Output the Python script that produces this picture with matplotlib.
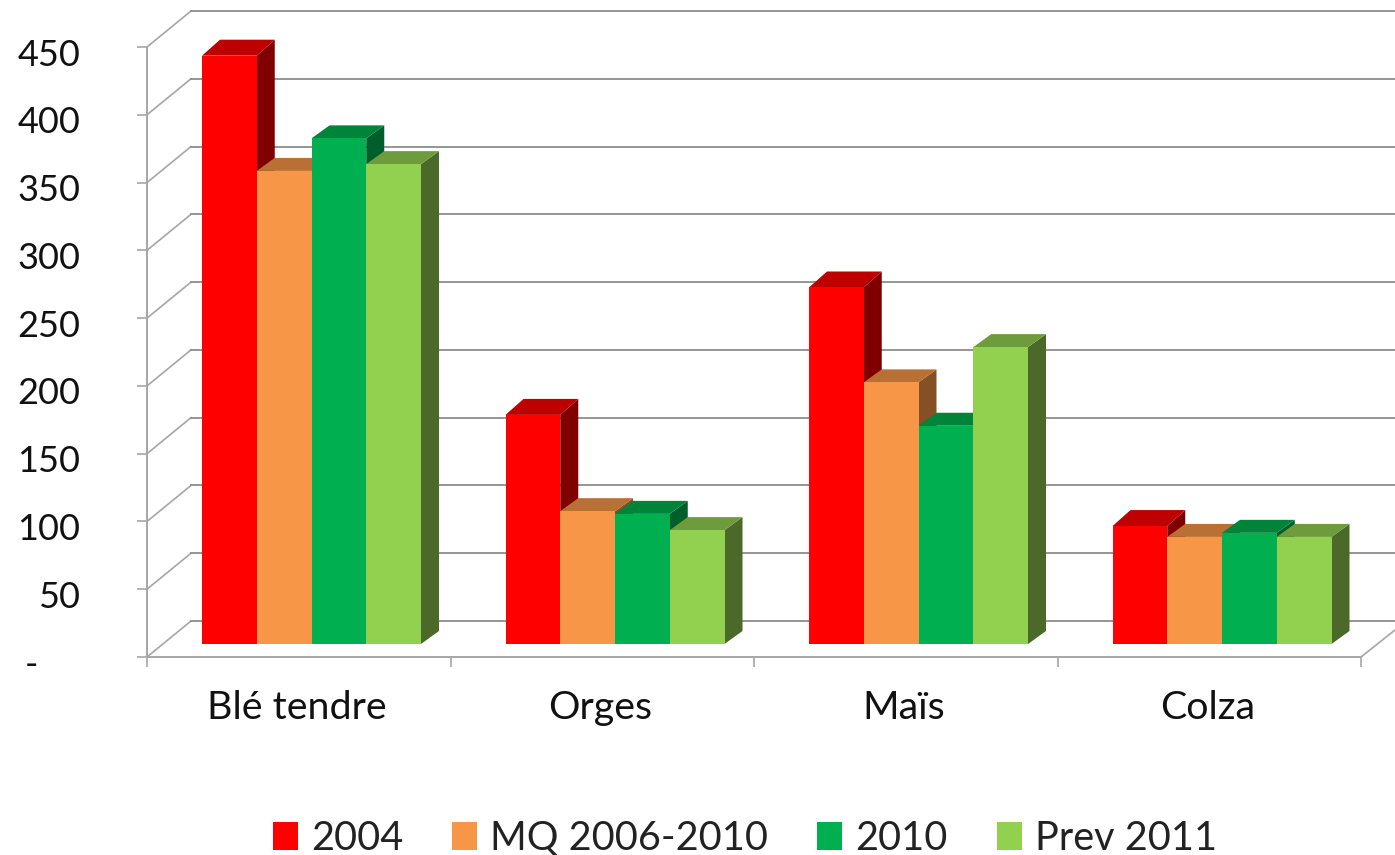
# -*- coding: utf-8 -*-
import numpy as np
import matplotlib
matplotlib.use("Agg")
import matplotlib.pyplot as plt
from matplotlib.patches import Polygon, Patch
from matplotlib.transforms import ScaledTranslation

plt.rcParams['font.family'] = ['Lato', 'DejaVu Sans']

categories = ["Blé tendre", "Orges", "Maïs", "Colza"]
series_names = ["2004", "MQ 2006-2010", "2010", "Prev 2011"]
ble = [434, 349, 373, 354]
orges = [169, 98, 96, 84]
mais = [263, 193, 161, 219]
colza = [87, 79, 82, 79]
yticks = [0, 50, 100, 150, 200, 250, 300, 350, 400, 450]
ylabels = ["-", "50", "100", "150", "200", "250", "300", "350", "400", "450"]

front = ["#FF0000", "#F79646", "#00B050", "#92D050"]
top = ["#BE0000", "#B97035", "#008439", "#6E9C3C"]
side = ["#800000", "#855024", "#005E2B", "#4B6A29"]

W, H = 1395, 855
x0, x1 = 147, 1361
y0, y1 = 657, 47
fig = plt.figure(figsize=(W / 100, H / 100), dpi=100)
ax = fig.add_axes([x0 / W, 1 - y0 / H, (x1 - x0) / W, (y0 - y1) / H])
ax.set_xlim(0, 4)
ax.set_ylim(0, 450)

# pixel to data conversions for the fake 3d
px = 4 / (x1 - x0)
py = 450 / (y0 - y1)
wall_dx, wall_dy = 44 * px, 36 * py
bar_w = 54.75 * px
bar_start = 55 * px
floor = 13 * py

# walls
for v in yticks:
    ax.plot([0, wall_dx], [v, v + wall_dy], color="#a6a6a6", lw=1.2, clip_on=False, zorder=1)
    ax.plot([wall_dx, 4.2], [v + wall_dy, v + wall_dy], color="#8c8c8c", lw=1.3,
            clip_on=False, zorder=1)
ax.plot([4, 4 + 34 * px], [0, 27 * py], color="#a6a6a6", lw=1.2, clip_on=False, zorder=1)

# bars, later ones over earlier ones
for g, vals in enumerate([ble, orges, mais, colza]):
    for s, v in enumerate(vals):
        xl = g + bar_start + s * bar_w
        xr = xl + bar_w
        dx = 18 * px
        dy = (16 if s == 0 else 13) * py
        b = floor
        t = floor + v
        z = 3 + g * 4 + s
        ax.add_patch(Polygon([(xr, b), (xr + dx, b + dy), (xr + dx, t + dy), (xr, t)],
                             fc=side[s], ec="none", zorder=z, clip_on=False))
        ax.add_patch(Polygon([(xl, t), (xr, t), (xr + dx, t + dy), (xl + dx, t + dy)],
                             fc=top[s], ec="none", zorder=z, clip_on=False))
        ax.add_patch(Polygon([(xl, b), (xr, b), (xr, t), (xl, t)],
                             fc=front[s], ec="none", zorder=z, clip_on=False))

for name in ["top", "right"]:
    ax.spines[name].set_visible(False)
for name in ["left", "bottom"]:
    ax.spines[name].set_color("#a6a6a6")
    ax.spines[name].set_linewidth(1.4)

ax.set_yticks(yticks)
ax.set_yticklabels(ylabels, fontsize=26, color="#111111")
ax.tick_params(axis="y", length=7, width=1.2, color="#a6a6a6", pad=41)
for lab, v in zip(ax.get_yticklabels(), yticks):
    shift = -42 if v == 0 else 0
    lab.set_transform(lab.get_transform() + ScaledTranslation(shift / 100, -5 / 100, fig.dpi_scale_trans))

ax.set_xticks(np.arange(5))
ax.set_xticklabels([])
ax.tick_params(axis="x", length=7, width=1.2, color="#a6a6a6")
ax.set_xticks(np.arange(4) + 0.5, minor=True)
ax.set_xticklabels(categories, minor=True, fontsize=28.4, color="#111111")
ax.tick_params(axis="x", which="minor", length=0, pad=24)
for lab in ax.get_xticklabels(minor=True):
    lab.set_transform(lab.get_transform() + ScaledTranslation(-2 / 100, 0, fig.dpi_scale_trans))

handles = [Patch(fc=c, ec="none") for c in front]
fig.legend(handles, series_names, ncol=4, loc="center", bbox_to_anchor=(745 / W, 1 - 838 / H),
           frameon=False, fontsize=28.5, labelcolor="#222222", handlelength=0.63, handleheight=0.7,
           handletextpad=0.33, columnspacing=1.24, borderpad=0, borderaxespad=0)

fig.savefig("out.png", dpi=100)
